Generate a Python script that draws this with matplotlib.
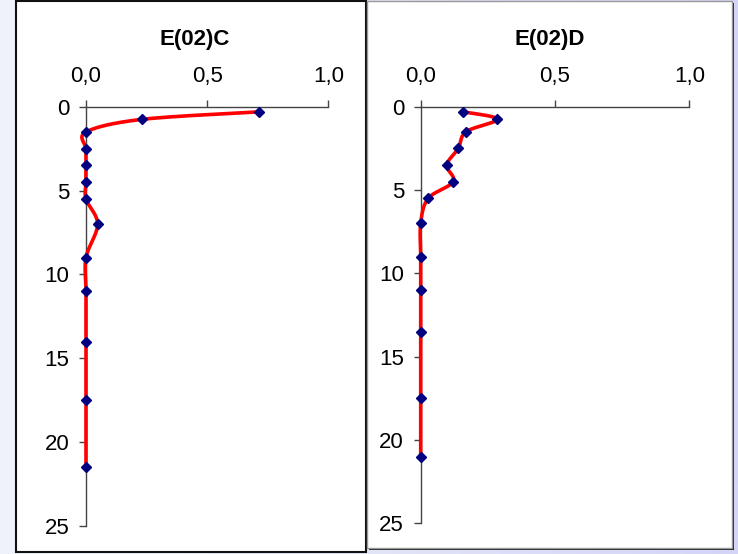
import numpy as np
import matplotlib
matplotlib.use("Agg")
import matplotlib.pyplot as plt
from matplotlib.patches import Rectangle
from matplotlib.ticker import FuncFormatter
from matplotlib.colors import LinearSegmentedColormap

plt.rcParams['font.family'] = ['Liberation Sans', 'DejaVu Sans']

# ---- data ----
titles = ["E(02)C", "E(02)D"]
depth_c = [0.3, 0.75, 1.5, 2.5, 3.5, 4.5, 5.5, 7.0, 9.0, 11.0, 14.0, 17.5, 21.5]
value_c = [0.715, 0.23, 0.0, 0.0, 0.0, 0.0, 0.0, 0.048, 0.0, 0.0, 0.0, 0.0, 0.0]
depth_d = [0.3, 0.75, 1.5, 2.5, 3.5, 4.5, 5.5, 7.0, 9.0, 11.0, 13.5, 17.5, 21.0]
value_d = [0.156, 0.285, 0.169, 0.14, 0.097, 0.121, 0.028, 0.0, 0.0, 0.0, 0.0, 0.0, 0.0]
x_ticks = [0.0, 0.5, 1.0]
y_ticks = [0, 5, 10, 15, 20, 25]

W, H = 738, 554
fig = plt.figure(figsize=(W / 100, H / 100), dpi=100)

# background gradient
bg = fig.add_axes([0, 0, 1, 1], zorder=-10)
grad = np.linspace(0, 1, 256)[None, :]
cmap = LinearSegmentedColormap.from_list("bg", ["#f0f2fc", "#e2e4f8", "#d4d4f7"])
bg.imshow(grad, aspect="auto", cmap=cmap, extent=[0, 1, 0, 1])
bg.set_axis_off()

def px_rect(x0, y0, x1, y1):
    return [x0 / W, 1 - y1 / H, (x1 - x0) / W, (y1 - y0) / H]

def box(x0, y0, x1, y1, edge, lw, shadow=False):
    if shadow:
        fig.patches.append(Rectangle(((x0 + 2) / W, 1 - (y1 + 2) / H), (x1 - x0) / W, (y1 - y0) / H,
                                     transform=fig.transFigure, facecolor="#222222",
                                     edgecolor="none", zorder=-6))
    fig.patches.append(Rectangle((x0 / W, 1 - y1 / H), (x1 - x0) / W, (y1 - y0) / H,
                                 transform=fig.transFigure, facecolor="white",
                                 edgecolor=edge, linewidth=lw, zorder=-5))

box(15.5, 0.5, 366, 552, "#111111", 1.5)
box(366.5, 1.0, 732, 548, "#999999", 1.0, shadow=True)

panels = [
    dict(title=titles[0], depth=depth_c, value=value_c,
         rect=(86, 106.8, 328.3, 526), title_x=195),
    dict(title=titles[1], depth=depth_d, value=value_d,
         rect=(420.7, 106.7, 689.3, 523.3), title_x=550),
]

fmt = FuncFormatter(lambda v, p: f"{v:.1f}".replace(".", ","))

def catmull(pts, n=30):
    P = np.vstack([pts[0], pts, pts[-1]])
    out = []
    for i in range(1, len(P) - 2):
        p0, p1, p2, p3 = P[i - 1], P[i], P[i + 1], P[i + 2]
        b1 = p1 + (p2 - p0) / 6.0
        b2 = p2 - (p3 - p1) / 6.0
        t = np.linspace(0, 1, n)[:, None]
        seg = ((1 - t) ** 3) * p1 + 3 * ((1 - t) ** 2) * t * b1 + 3 * (1 - t) * t ** 2 * b2 + t ** 3 * p2
        out.append(seg if i == 1 else seg[1:])
    return np.vstack(out)

for pnl in panels:
    x0, y0, x1, y1 = pnl["rect"]
    ax = fig.add_axes(px_rect(x0, y0, x1, y1))
    ax.patch.set_alpha(0)
    ax.set_xlim(0, 1.0)
    ax.set_ylim(25, 0)
    ax.xaxis.tick_top()
    ax.set_xticks(x_ticks)
    ax.xaxis.set_major_formatter(fmt)
    ax.set_yticks(y_ticks)
    for s in ["right", "bottom"]:
        ax.spines[s].set_visible(False)
    for s in ["top", "left"]:
        ax.spines[s].set_color("#444444")
        ax.spines[s].set_linewidth(1.0)
    ax.tick_params(axis="x", direction="out", length=5, width=1, color="#444444",
                   labelsize=16, pad=9, top=True, bottom=False)
    ax.tick_params(axis="y", direction="out", length=5, width=1, color="#444444",
                   labelsize=16, pad=7)
    data = np.column_stack([pnl["value"], pnl["depth"]])
    disp = ax.transData.transform(data)
    curve = ax.transData.inverted().transform(catmull(disp))
    ax.plot(curve[:, 0], curve[:, 1], color="#ff0000", linewidth=2.6,
            solid_capstyle="round", clip_on=False, zorder=3)
    ax.plot(pnl["value"], pnl["depth"], linestyle="none", marker="D",
            markersize=5.5, color="#000080", clip_on=False, zorder=4)
    fig.text(pnl["title_x"] / W, 1 - 39 / H, pnl["title"], ha="center", va="center",
             fontsize=16, fontweight="bold")

fig.savefig("out.png", dpi=100)
